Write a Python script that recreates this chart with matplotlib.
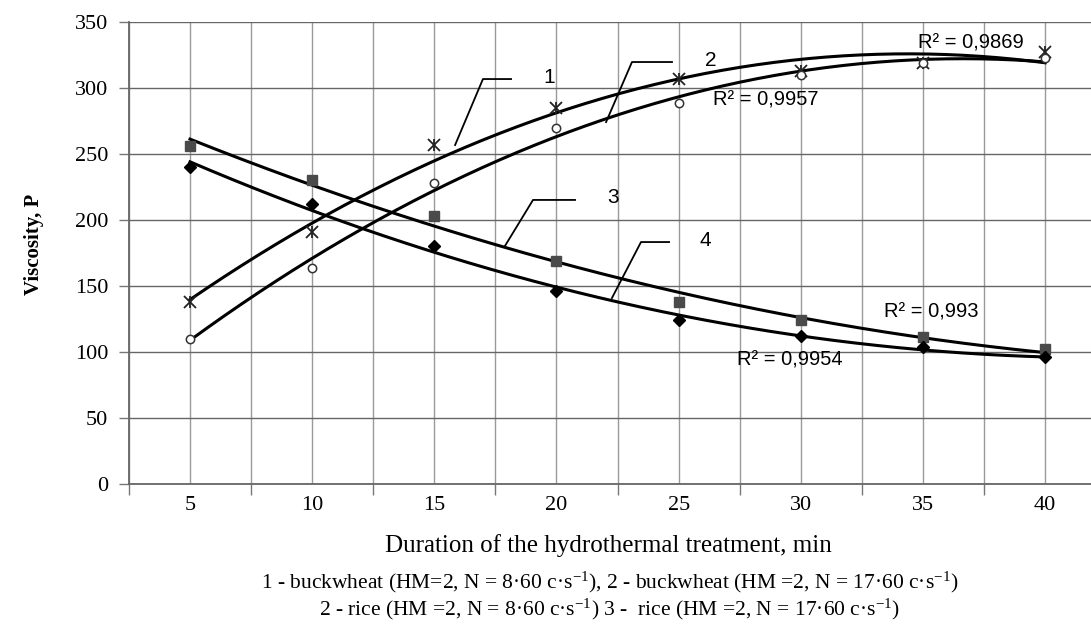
import numpy as np
import matplotlib
matplotlib.use("Agg")
import matplotlib.pyplot as plt

# --- data ---
duration = [5, 10, 15, 20, 25, 30, 35, 40]           # min
buckwheat_8 = [138, 191, 257, 285, 307, 313, 319, 327]   # curve 1, star markers
buckwheat_17 = [110, 164, 228, 270, 289, 310, 319, 323]  # curve 2, open circles
rice_8 = [256, 230, 203, 169, 138, 124, 111, 102]        # curve 3, squares
rice_17 = [240, 212, 180, 146, 124, 112, 104, 96]        # curve 4, diamonds
r2_labels = ["R² = 0,9869", "R² = 0,9957", "R² = 0,993", "R² = 0,9954"]
curve_numbers = ["1", "2", "3", "4"]
y_ticks = [0, 50, 100, 150, 200, 250, 300, 350]

plt.rcParams['font.family'] = ['Liberation Serif', 'DejaVu Serif']
plt.rcParams['mathtext.fontset'] = 'custom'
plt.rcParams['mathtext.rm'] = 'Liberation Serif'
plt.rcParams['mathtext.it'] = 'Liberation Serif:italic'

fig = plt.figure(figsize=(10.91, 6.24), dpi=100)
ax = fig.add_axes([0.1182, 0.2244, 0.8818, 0.7403])

x = np.array(duration, dtype=float)
xs = np.linspace(5, 40, 200)

# polynomial trend lines (order 2, like the spreadsheet trendlines)
for vals in [buckwheat_8, buckwheat_17, rice_8, rice_17]:
    coef = np.polyfit(x, vals, 2)
    ax.plot(xs, np.polyval(coef, xs), color='black', lw=2.2, zorder=3)

ax.plot(x, buckwheat_8, 'x', color='#222222', ms=9, mew=1.3, zorder=4)
ax.plot(x, buckwheat_8, '|', color='#222222', ms=9, mew=1.3, zorder=4)
ax.plot(x, buckwheat_17, 'o', mfc='white', mec='#333333', ms=6, mew=1.1, zorder=4)
ax.plot(x, rice_8, 's', color='#4a4a4a', ms=7, zorder=4)
ax.plot(x, rice_17, 'D', color='black', ms=6, zorder=4)

# axes, ticks and grid
ax.set_yticks(y_ticks)
ax.set_xticks(duration)
ax.set_xticks(np.arange(2.5, 42.6, 5), minor=True)
ax.set_xlim(2.5, 41.88)   # after set_xticks, which would widen the view
ax.set_ylim(0, 350)
ax.tick_params(axis='x', which='major', length=0, pad=9, labelsize=16)
ax.tick_params(axis='x', which='minor', length=8, width=1, color='#777777')
ax.tick_params(axis='y', length=7, width=1, color='#777777', pad=8, labelsize=16)
ax.grid(True, axis='x', which='both', color='#9a9a9a', lw=1)
ax.grid(True, axis='y', color='#666666', lw=1)
ax.set_axisbelow(True)
for s in ['top', 'right']:
    ax.spines[s].set_visible(False)
ax.spines['left'].set_color('#666666')
ax.spines['bottom'].set_color('#666666')
ax.spines['left'].set_linewidth(1.3)
ax.spines['bottom'].set_linewidth(1.3)

ax.set_xlabel('Duration of the hydrothermal treatment, min', fontsize=18, va='center')
ax.xaxis.set_label_coords(0.498, -0.134)
ax.set_ylabel('Viscosity, P', fontsize=15, fontweight='bold', va='center')
ax.yaxis.set_label_coords(-0.099, 0.519)

# curve number labels with leader lines
num_pos = [(19.45, 308.3), (26.08, 321.2), (22.07, 217.4), (25.87, 184.8)]
leaders = [
    [(18.14, 306.8), (16.99, 306.8), (15.85, 256.8)],
    [(24.73, 319.7), (23.09, 319.7), (22.03, 274.2)],
    [(20.76, 215.2), (19.04, 215.2), (17.89, 180.3)],
    [(24.61, 183.3), (23.46, 183.3), (22.27, 140.9)],
]
for txt, (tx, ty), pts in zip(curve_numbers, num_pos, leaders):
    ax.text(tx, ty, txt, family='Liberation Sans', fontsize=15, va='center', ha='left')
    lx, ly = zip(*pts)
    ax.plot(lx, ly, color='black', lw=1.3, zorder=3)

# R² annotations
r2_pos = [(34.8, 334), (26.4, 291), (33.4, 130), (27.4, 94)]
for txt, (tx, ty) in zip(r2_labels, r2_pos):
    ax.text(tx, ty, txt, family='Liberation Sans', fontsize=14.5, va='center', ha='left', zorder=5)

# caption
fig.text(0.559, 0.067,
         '1 - buckwheat (HM=2, N = 8·60 c·s$^{\\mathregular{-1}}$), '
         '2 - buckwheat (HM =2, N = 17·60 c·s$^{\\mathregular{-1}}$)',
         ha='center', va='center', fontsize=15.5)
fig.text(0.559, 0.024,
         '2 - rice (HM =2, N = 8·60 c·s$^{\\mathregular{-1}}$) '
         '3 -  rice (HM =2, N = 17·60 c·s$^{\\mathregular{-1}}$)',
         ha='center', va='center', fontsize=15.5)

fig.savefig('out.png', dpi=100)
